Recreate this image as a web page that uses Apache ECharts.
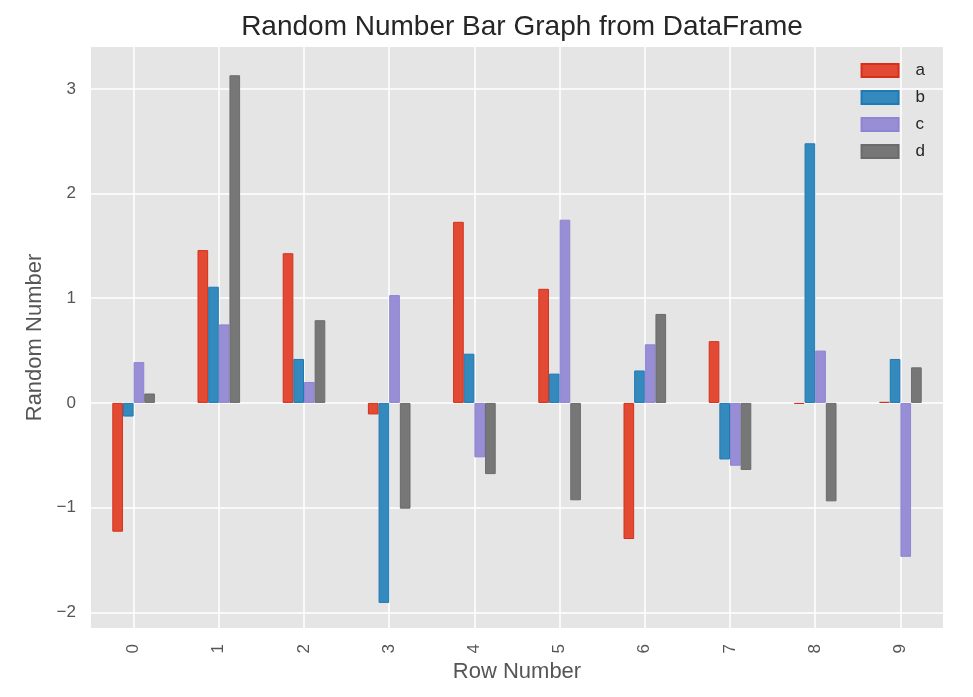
<!DOCTYPE html>
<html lang="en">
<head>
    <meta charset="UTF-8">
    <title>Random Number Bar Graph from DataFrame</title>
    <script src="https://cdn.jsdelivr.net/npm/echarts@6/dist/echarts.min.js"></script>
    <style>
        html, body { margin: 0; padding: 0; background: #fff; }
        #main { width: 973px; height: 697px; }
    </style>
</head>
<body>
<div id="main"></div>
<script>
    // data
    var rows = ['0', '1', '2', '3', '4', '5', '6', '7', '8', '9'];
    var colA = [-1.23, 1.46, 1.43, -0.11, 1.73, 1.09, -1.30, 0.59, -0.01, 0.01];
    var colB = [-0.13, 1.11, 0.42, -1.91, 0.47, 0.28, 0.31, -0.54, 2.48, 0.42];
    var colC = [0.39, 0.75, 0.20, 1.03, -0.52, 1.75, 0.56, -0.60, 0.50, -1.47];
    var colD = [0.09, 3.13, 0.79, -1.01, -0.68, -0.93, 0.85, -0.64, -0.94, 0.34];
    var yTicks = [-2, -1, 0, 1, 2, 3];

    var colors = ['#E24A33', '#348ABD', '#988ED5', '#777777'];
    var edges = ['#D6301A', '#1F79B5', '#8E84D4', '#6B6B6B'];
    var font = '"Liberation Sans", Arial, sans-serif';

    function bar(name, data, i) {
        return {
            name: name,
            type: 'bar',
            data: data,
            barGap: '0%',
            barCategoryGap: '50%',
            itemStyle: { color: colors[i], borderColor: edges[i], borderWidth: 1 }
        };
    }

    var chart = echarts.init(document.getElementById('main'));
    chart.setOption({
        animation: false,
        textStyle: { fontFamily: font },
        title: {
            text: 'Random Number Bar Graph from DataFrame',
            left: 517,          // centred over the plot area, not the page
            textAlign: 'center',
            top: 8,
            textStyle: { fontFamily: font, fontSize: 28, fontWeight: 'normal', color: '#262626' }
        },
        legend: {
            orient: 'vertical',
            right: 48,
            top: 62,
            padding: 0,
            itemWidth: 37,
            itemHeight: 13,
            itemGap: 10,
            icon: 'rect',
            textStyle: { fontFamily: font, fontSize: 17, color: '#262626', padding: [0, 0, 0, 12] },
            data: ['a', 'b', 'c', 'd']
        },
        grid: {
            left: 91, right: 30, top: 47, bottom: 69,
            show: true, backgroundColor: '#E5E5E5', borderWidth: 0
        },
        xAxis: {
            type: 'category',
            data: rows,
            name: 'Row Number',
            nameLocation: 'middle',
            nameGap: 32,
            nameTextStyle: { fontSize: 22, color: '#555' },
            axisLine: { show: false },
            axisTick: { show: false, alignWithLabel: true },
            axisLabel: { rotate: 90, fontSize: 17, color: '#555', margin: 16 },
            splitLine: { show: true, alignWithLabel: true, lineStyle: { color: '#fff', width: 1.5 } }
        },
        yAxis: {
            type: 'value',
            min: -2.15,
            max: 3.4,
            name: 'Random Number',
            nameLocation: 'middle',
            nameGap: 44,
            nameTextStyle: { fontSize: 22, color: '#555' },
            axisLine: { show: false },
            axisTick: { show: false, customValues: yTicks },
            axisLabel: {
                fontSize: 17, color: '#555', margin: 15, customValues: yTicks,
                formatter: function (v) { return v < 0 ? '\u2212' + Math.abs(v) : String(v); }
            },
            splitLine: { show: true, lineStyle: { color: '#fff', width: 1.5 } }
        },
        series: [
            bar('a', colA, 0),
            bar('b', colB, 1),
            bar('c', colC, 2),
            bar('d', colD, 3)
        ]
    });
</script>
</body>
</html>
